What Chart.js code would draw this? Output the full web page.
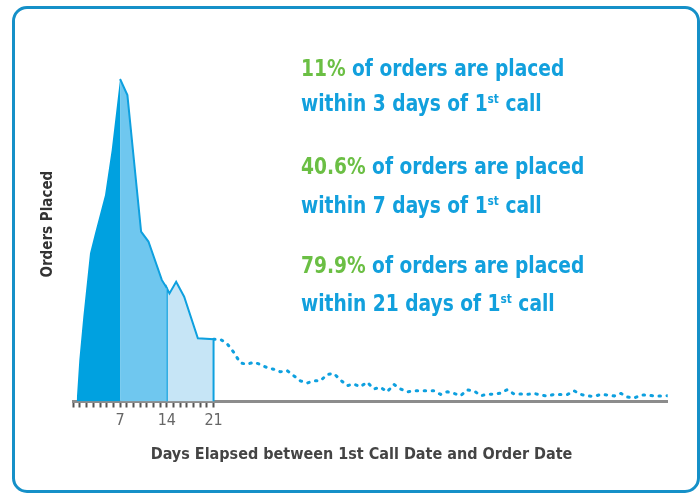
<!DOCTYPE html>
<html>
<head>
<meta charset="utf-8">
<script src="https://cdn.jsdelivr.net/npm/chart.js@4.4.1/dist/chart.umd.min.js"></script>
<style>
  html, body { margin:0; padding:0; background:#fff; }
  #wrap { position:relative; width:700px; height:493px; overflow:hidden; }
  #frame { position:absolute; left:12px; top:6px; width:688px; height:487px; box-sizing:border-box;
    border:3px solid #1590c8; border-radius:15px; }
  #chart { position:absolute; left:0; top:0; }
  .note { position:absolute; left:301px; font-family:'Liberation Sans Narrow','Arial Narrow','DejaVu Sans Condensed',sans-serif;
    font-weight:bold; font-size:23px; line-height:37px; color:#12a0dd; white-space:nowrap;
    transform:scaleX(0.9); transform-origin:0 0; }
  .note .pct { color:#6bbf44; }
  .note sup { font-size:13px; line-height:0; vertical-align:8px; }
  #xtitle { position:absolute; left:0; width:723px; top:444px; text-align:center;
    font-family:'Liberation Sans Narrow','Arial Narrow','DejaVu Sans Condensed',sans-serif;
    font-weight:bold; font-size:16px; line-height:20px; color:#444; white-space:nowrap; }
</style>
</head>
<body>
<div id="wrap">
  <div id="frame"></div>
  <canvas id="chart" width="700" height="493"></canvas>
  <div class="note" style="top:50px"><span class="pct">11%</span> of orders are placed</div>
  <div class="note" style="top:85px">within 3 days of 1<sup>st</sup> call</div>
  <div class="note" style="top:148px"><span class="pct">40.6%</span> of orders are placed</div>
  <div class="note" style="top:187px">within 7 days of 1<sup>st</sup> call</div>
  <div class="note" style="top:247px"><span class="pct">79.9%</span> of orders are placed</div>
  <div class="note" style="top:285px">within 21 days of 1<sup>st</sup> call</div>
  <div id="xtitle">Days Elapsed between 1st Call Date and Order Date</div>
</div>
<script>
// first three weeks (day, orders)
const headDays   = [0.5, 0.9, 1.5, 2.5, 3.25, 4.75, 5.75, 7, 8.1, 10.15, 11.25, 13.25, 14, 14.4, 15.4, 16.6, 18.65, 21]
const headOrders = [0, 12.9, 26.3, 46.0, 52.2, 64.0, 78.0, 100, 95.0, 52.7, 49.6, 37.7, 35.2, 33.5, 37.1, 32.5, 19.6, 19.3]

// day 21 .. 89, dotted tail
const tailStart = 21
const tailOrders = [19.3, 19.3, 18.0, 15.3, 12.0, 11.5, 12.2, 11.5, 10.5, 10.0,
  9.2, 9.6, 8.0, 6.4, 5.7, 6.4, 6.4, 8.4, 8.7, 6.7,
  4.9, 5.4, 4.6, 6.0, 3.9, 4.4, 3.0, 5.3, 3.9, 3.0,
  3.3, 3.3, 3.3, 3.3, 2.2, 3.0, 2.5, 1.8, 3.6, 3.3,
  1.8, 2.2, 2.3, 2.6, 3.7, 2.3, 2.3, 2.2, 2.5, 2.0,
  1.7, 2.2, 2.2, 2.2, 3.3, 2.2, 1.7, 1.6, 2.2, 2.0,
  1.7, 2.5, 1.4, 1.1, 2.0, 2.0, 1.7, 1.7, 1.8]

const tickLabels = [7, 14, 21]
const bands = [0, 7, 14, 21]

const BLUE = '#0ea0df'
const narrow = "'Liberation Sans Narrow','Arial Narrow','DejaVu Sans Condensed',sans-serif"

const head = headDays.map((d, i) => ({ x: d, y: headOrders[i] }))
const tail = tailOrders.map((v, i) => ({ x: tailStart + i, y: v }))

function band(a, b) {
  return head.filter(p => p.x >= a && p.x <= b)
}

const darkPts = band(bands[0], bands[1])
const midPts = band(bands[1], bands[2])
const lightPts = band(bands[2], bands[3])
// close the light band with its vertical edges
const lightClosed = [{ x: bands[2], y: 0 }, ...lightPts, { x: bands[3], y: 0 }]

const base = { pointRadius: 0, pointHoverRadius: 0, tension: 0 }

new Chart(document.getElementById('chart'), {
  type: 'line',
  data: {
    datasets: [
      { ...base, data: darkPts, fill: 'origin', backgroundColor: '#00a1e0', borderColor: '#00a1e0', borderWidth: 0 },
      { ...base, data: midPts, fill: 'origin', backgroundColor: '#6fc7ef', borderColor: BLUE, borderWidth: 2 },
      { ...base, data: lightClosed, fill: 'origin', backgroundColor: '#c6e5f6', borderColor: BLUE, borderWidth: 2 },
      { ...base, data: tail, fill: false, borderColor: BLUE, borderWidth: 3, borderDash: [1.5, 6.5], borderCapStyle: 'round', borderJoinStyle: 'round' }
    ]
  },
  options: {
    responsive: false,
    animation: false,
    layout: { padding: { top: 46.75, right: 32.3, bottom: 0, left: 0 } },
    plugins: { legend: { display: false }, tooltip: { enabled: false } },
    scales: {
      x: {
        type: 'linear', min: 0, max: 89, z: 1,
        afterFit: s => { s.height = 91.5 },
        border: { display: true, color: '#8c8c8c', width: 3 },
        grid: {
          drawOnChartArea: false, drawTicks: true, tickLength: 6, tickWidth: 2,
          tickColor: c => (c.tick && c.tick.value <= 21) ? '#555' : 'rgba(0,0,0,0)'
        },
        ticks: {
          stepSize: 1, autoSkip: false, maxRotation: 0, padding: 4,
          color: '#666', font: { family: narrow, size: 16 },
          callback: v => tickLabels.includes(v) ? String(v) : ''
        },
        title: { display: false }
      },
      y: {
        min: 0, max: 110,
        afterFit: s => { s.width = 73.3 },
        border: { display: false },
        grid: { display: false },
        ticks: { display: false },
        title: {
          display: true, text: 'Orders Placed', color: '#333',
          font: { family: narrow, size: 15, weight: 'bold' },
          padding: { top: 39, bottom: 0 }
        }
      }
    }
  }
})
</script>
</body>
</html>
